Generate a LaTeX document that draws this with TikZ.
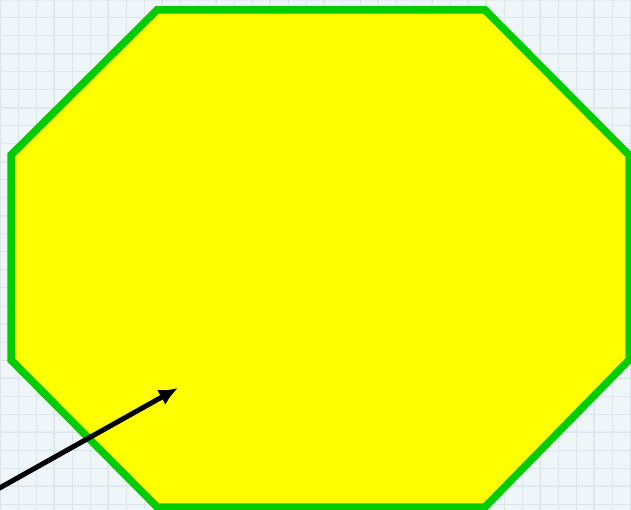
\documentclass[tikz,border=0pt]{standalone}
\usetikzlibrary{arrows.meta}

\definecolor{paper}{RGB}{239,246,250}
\definecolor{gridline}{RGB}{218,229,236}
\definecolor{rimgreen}{RGB}{0,204,0}
\definecolor{fillyellow}{RGB}{255,255,0}

\tikzset{
  octagon/.style={line width=7.5pt, draw=rimgreen, fill=fillyellow, line join=miter},
  pointer/.style={line width=5pt, -{Latex[length=19pt,width=17pt]}},
}

\begin{document}
\begin{tikzpicture}[x=1pt, y=-1pt]
  % Background sheet
  \useasboundingbox (0,0) rectangle (631,510);
  \clip (0,0) rectangle (631,510);
  \fill[paper] (0,0) rectangle (631,510);

  % Faint grid
  \foreach \k in {0,...,35} {
    \draw[gridline, line width=1pt] (\k*18,0) -- (\k*18,510);
    \draw[gridline, line width=1pt] (0,\k*18) -- (631,\k*18);
  }
  \foreach \k in {0,...,12} {
    \draw[gridline!80!gray!60, line width=2pt, opacity=0.5] (\k*54,0) -- (\k*54,510);
    \draw[gridline!80!gray!60, line width=2pt, opacity=0.5] (0,\k*54) -- (631,\k*54);
  }

  % Octagon
  \draw[octagon] (157,10) -- (485,10) -- (629,155) -- (629,360)
    -- (485,507) -- (157,507) -- (11,360) -- (11,155) -- cycle;

  % Arrow
  \coordinate (tail) at (-4,490);
  \coordinate (head) at (178,388);
  \draw[pointer] (tail) -- (head);
\end{tikzpicture}
\end{document}
